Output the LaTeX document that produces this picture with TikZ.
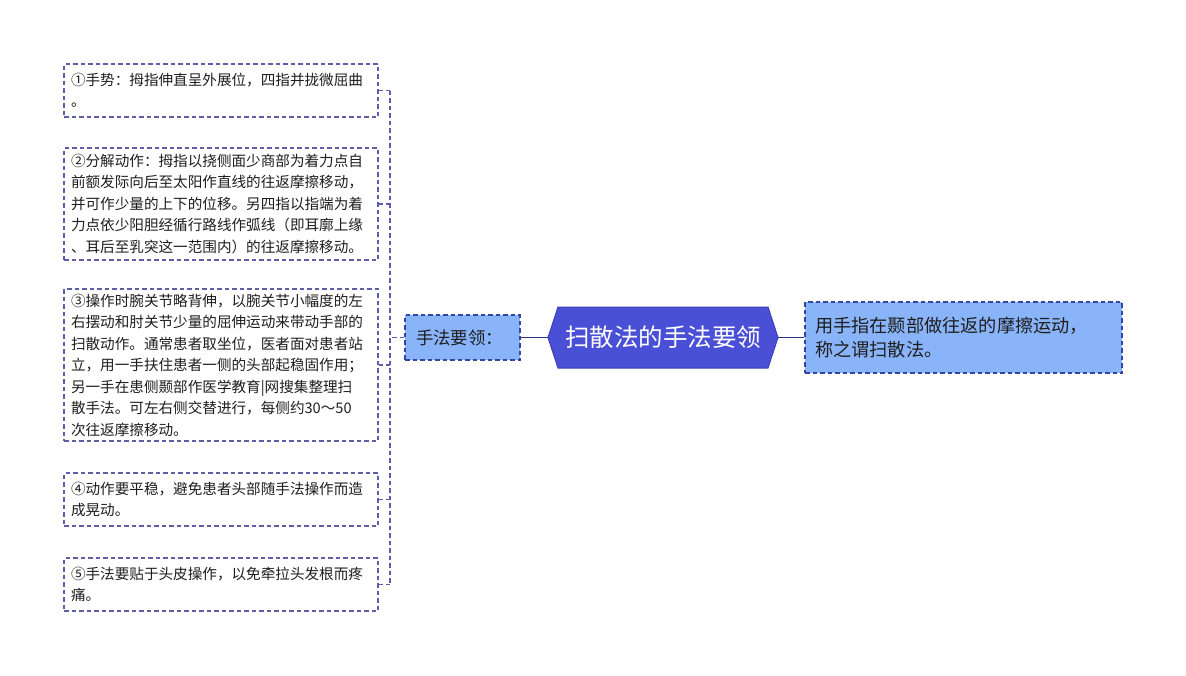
\documentclass[tikz,border=0pt]{standalone}
\usepackage{fontspec}
\setmainfont{Noto Sans CJK SC}
\usetikzlibrary{shapes.misc}
\definecolor{leafborder}{RGB}{92,94,170}
\definecolor{midfill}{RGB}{138,180,250}
\definecolor{midborder}{RGB}{52,70,160}
\definecolor{rootfill}{RGB}{74,80,214}
\definecolor{rootborder}{RGB}{60,64,180}
\definecolor{solidline}{RGB}{40,52,140}
\definecolor{txt}{RGB}{30,30,30}
\tikzset{
  leaf/.style={draw=leafborder, dash pattern=on 4.5pt off 3pt, line width=1.1pt, fill=white,
    minimum width=314, inner xsep=7, inner ysep=0, text width=300, align=left,
    font=\fontsize{14.6}{21.5}\selectfont, text=txt, anchor=center},
  midbox/.style={draw=midborder, dash pattern=on 4.5pt off 3pt, line width=1.1pt, fill=midfill,
    minimum width=115, minimum height=45, inner sep=0, font=\fontsize{17.4}{22}\selectfont, text=txt},
  rightbox/.style={draw=midborder, dash pattern=on 4.5pt off 3pt, line width=1.1pt, fill=midfill,
    minimum width=317, minimum height=71, inner xsep=10, inner ysep=0, text width=297, align=left,
    font=\fontsize{18.2}{24}\selectfont, text=txt},
  bracket/.style={draw=leafborder, dash pattern=on 4.5pt off 3pt, line width=1.1pt},
  solidconn/.style={draw=solidline, line width=1.4pt},
}
\begin{document}
\begin{tikzpicture}[x=1pt,y=-1pt]
\useasboundingbox (0,0) rectangle (1186,675);
\fill[white] (0,0) rectangle (1186,675);

% root hexagon
\coordinate (rc) at (663,337.5);
\draw[fill=rootfill, draw=rootborder, line width=1pt]
  (548,337.5) -- (558,307) -- (768,307) -- (778,337.5) -- (768,368) -- (558,368) -- cycle;
\node[inner sep=0, minimum width=230, minimum height=61, text=white,
  font=\fontsize{24.5}{28}\selectfont] (root) at (rc) {扫散法的手法要领};

% middle label
\node[midbox] (mid) at (462.5,337.5) {\hspace*{-6pt}手法要领：};

% right description
\node[rightbox] (desc) at (963.5,337.5) {用手指在颞部做往返的摩擦运动，\\称之谓扫散法。};

% left leaves
\node[leaf, minimum height=53] (b1) at (221,90.5) {①手势：拇指伸直呈外展位，四指并拢微屈曲\\。};
\node[leaf, minimum height=112] (b2) at (221,204) {②分解动作：拇指以挠侧面少商部为着力点自\\前额发际向后至太阳作直线的往返摩擦移动，\\并可作少量的上下的位移。另四指以指端为着\\力点依少阳胆经循行路线作弧线（即耳廓上缘\\、耳后至乳突这一范围内）的往返摩擦移动。};
\node[leaf, minimum height=152] (b3) at (221,365) {③操作时腕关节略背伸，以腕关节小幅度的左\\右摆动和肘关节少量的屈伸运动来带动手部的\\扫散动作。通常患者取坐位，医者面对患者站\\立，用一手扶住患者一侧的头部起稳固作用；\\另一手在患侧颞部作医学教育|网搜集整理扫\\散手法。可左右侧交替进行，每侧约30～50\\次往返摩擦移动。};
\node[leaf, minimum height=53] (b4) at (221,499.5) {④动作要平稳，避免患者头部随手法操作而造\\成晃动。};
\node[leaf, minimum height=53] (b5) at (221,584.5) {⑤手法要贴于头皮操作，以免牵拉头发根而疼\\痛。};

% connectors
\draw[solidconn] (mid.east) -- (548,337.5);
\draw[solidconn] (778,337.5) -- (desc.west);

\coordinate (j) at (390,337.5);
\draw[bracket] (mid.west) -- (j);
\draw[bracket] (b1.east -| j) -- (b5.east -| j);
\foreach \b in {b1,b2,b3,b4,b5}{
  \draw[bracket] (\b.east) -- (\b.east -| j);
}
\end{tikzpicture}
\end{document}
